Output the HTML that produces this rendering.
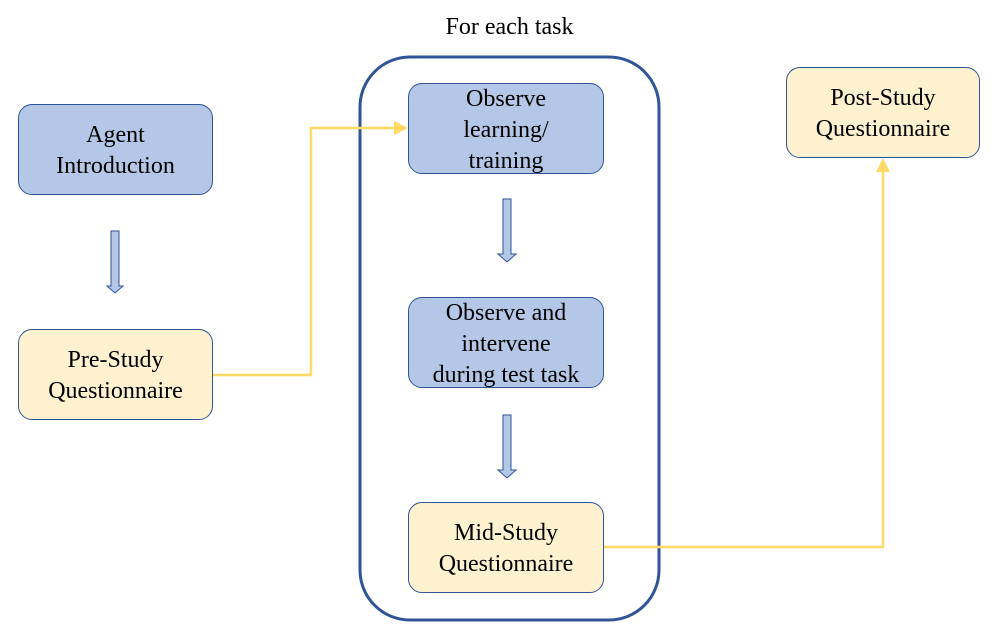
<!DOCTYPE html>
<html><head><style>
body{margin:0;background:#fff;width:1000px;height:640px;overflow:hidden;position:relative;font-family:"Liberation Serif",serif;}
.b{position:absolute;box-sizing:border-box;border:1.3px solid #2f5597;border-radius:14px;display:flex;align-items:center;justify-content:center;text-align:center;font-size:24px;line-height:31px;color:#000;padding-top:3px;}
.bl{background:#b4c7e7;}
.y{background:#fdf1cf;}
</style></head><body>
<svg width="1000" height="640" style="position:absolute;left:0;top:0">
<rect x="360" y="57" width="299" height="563" rx="50" fill="none" stroke="#2f5597" stroke-width="3"/>
<polyline points="212,375 311,375 311,128 396,128" fill="none" stroke="#ffd966" stroke-width="2.5"/>
<polygon points="394,121 408,128 394,135" fill="#ffd966"/>
<polyline points="603,547 883,547 883,170" fill="none" stroke="#ffd966" stroke-width="2.5"/>
<polygon points="876,172 883,158 890,172" fill="#ffd966"/>
<g fill="#b4c7e7" stroke="#2f5597" stroke-width="1">
<polygon points="111,231 119,231 119,286 123,286 115,293 107,286 111,286"/>
<polygon points="503,199 511,199 511,254 516,254 507,262 498,254 503,254"/>
<polygon points="503,415 511,415 511,470 516,470 507,478 498,470 503,470"/>
</g>
</svg>
<div style="position:absolute;left:360px;top:12px;width:299px;text-align:center;font-size:24px;line-height:30px">For each task</div>
<div class="b bl" style="left:18px;top:104px;width:195px;height:91px">Agent<br>Introduction</div>
<div class="b y" style="left:18px;top:329px;width:195px;height:91px">Pre-Study<br>Questionnaire</div>
<div class="b bl" style="left:408px;top:83px;width:196px;height:91px">Observe<br>learning/<br>training</div>
<div class="b bl" style="left:408px;top:297px;width:196px;height:91px">Observe and<br>intervene<br>during test task</div>
<div class="b y" style="left:408px;top:502px;width:196px;height:91px">Mid-Study<br>Questionnaire</div>
<div class="b y" style="left:786px;top:67px;width:194px;height:91px">Post-Study<br>Questionnaire</div>
</body></html>
